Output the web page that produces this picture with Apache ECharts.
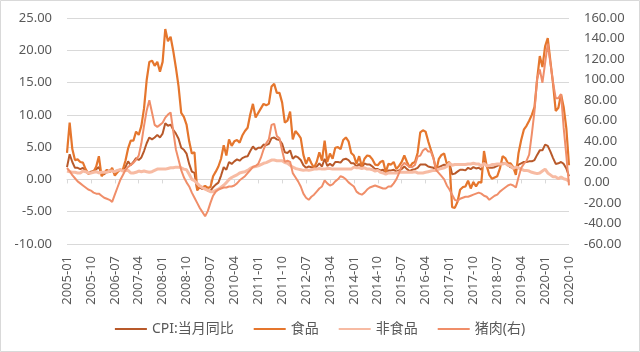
<!DOCTYPE html>
<html>
<head>
<meta charset="utf-8">
<script src="https://cdn.jsdelivr.net/npm/echarts@6/dist/echarts.min.js"></script>
<style>
html, body { margin: 0; padding: 0; background: #fff; }
#chart { width: 640px; height: 352px; }
</style>
</head>
<body>
<div id="chart"></div>
<script>
// 月份 2005-01 ~ 2020-10
const months = []
for (let y = 2005; y <= 2020; y++) {
  for (let m = 1; m <= 12; m++) {
    if (y === 2020 && m > 10) break
    months.push(y + '-' + (m < 10 ? '0' + m : m))
  }
}

// CPI:当月同比 (%)
const cpi = [
  1.9, 3.9, 2.7, 1.8, 1.8, 1.6, 1.8, 1.3, 0.9, 1.2, 1.3, 1.6,
  1.9, 0.9, 0.8, 1.2, 1.4, 1.5, 1.0, 1.3, 1.5, 1.4, 1.9, 2.8,
  2.2, 2.7, 3.3, 3.0, 3.4, 4.4, 5.6, 6.5, 6.2, 6.5, 6.9, 6.5,
  7.1, 8.7, 8.3, 8.5, 7.7, 7.1, 6.3, 4.9, 4.6, 4.0, 2.4, 1.2,
  1.0, -1.6, -1.2, -1.5, -1.4, -1.7, -1.8, -1.2, -0.8, -0.5, 0.6, 1.9,
  1.5, 2.7, 2.4, 2.8, 3.1, 2.9, 3.3, 3.5, 3.6, 4.4, 5.1, 4.6,
  4.9, 4.9, 5.4, 5.3, 5.5, 6.4, 6.5, 6.2, 6.1, 5.5, 4.2, 4.1,
  4.5, 3.2, 3.6, 3.4, 3.0, 2.2, 1.8, 2.0, 1.9, 1.7, 2.0, 2.5,
  2.0, 3.2, 2.1, 2.4, 2.1, 2.7, 2.7, 2.6, 3.1, 3.2, 3.0, 2.5,
  2.5, 2.0, 2.4, 1.8, 2.5, 2.3, 2.3, 2.0, 1.6, 1.6, 1.4, 1.5,
  0.8, 1.4, 1.4, 1.5, 1.2, 1.4, 1.6, 2.0, 1.6, 1.3, 1.5, 1.6,
  1.8, 2.3, 2.3, 2.3, 2.0, 1.9, 1.8, 1.3, 1.9, 2.1, 2.3, 2.1,
  2.5, 0.8, 0.9, 1.2, 1.5, 1.5, 1.4, 1.8, 1.6, 1.9, 1.7, 1.8,
  1.5, 2.9, 2.1, 1.8, 1.8, 1.9, 2.1, 2.3, 2.5, 2.5, 2.2, 1.9,
  1.7, 1.5, 2.3, 2.5, 2.7, 2.7, 2.8, 2.8, 3.0, 3.8, 4.5, 4.5,
  5.4, 5.2, 4.3, 3.3, 2.4, 2.5, 2.7, 2.4, 1.7, 0.5
]

// 食品 (%)
const food = [
  4.1, 8.8, 4.7, 3.0, 3.1, 2.7, 2.6, 1.6, 0.9, 1.0, 1.2, 2.0,
  3.6, 0.5, 1.0, 1.5, 1.1, 1.8, 0.6, 1.1, 1.5, 1.5, 2.9, 4.8,
  6.0, 6.0, 7.4, 6.9, 8.3, 11.0, 15.4, 18.2, 18.4, 17.6, 18.2, 16.7,
  18.2, 23.3, 21.4, 22.1, 19.9, 17.3, 14.4, 10.3, 9.7, 8.5, 5.9, 4.0,
  4.2, -1.7, -1.1, -1.2, -1.0, -1.3, -1.2, 0.5, 1.2, 2.0, 3.2, 5.3,
  3.7, 6.2, 5.2, 5.9, 6.1, 5.7, 6.8, 7.5, 8.0, 10.1, 11.7, 9.6,
  10.3, 11.0, 11.7, 11.5, 11.7, 14.4, 14.8, 13.4, 13.4, 11.9, 8.8, 9.1,
  10.5, 6.2, 7.5, 7.0, 6.4, 3.8, 2.4, 3.4, 2.5, 1.8, 2.7, 4.2,
  2.9, 6.0, 2.7, 4.0, 3.2, 4.9, 5.0, 4.7, 6.1, 6.5, 5.9, 4.1,
  3.7, 2.4, 3.6, 2.0, 3.2, 3.7, 3.6, 3.1, 2.3, 2.2, 2.7, 2.9,
  1.1, 2.4, 2.3, 2.7, 1.6, 2.1, 2.7, 3.7, 2.7, 1.9, 2.5, 2.7,
  4.1, 7.3, 7.6, 7.4, 5.9, 4.6, 3.3, 1.3, 3.2, 3.8, 4.0, 2.4,
  2.7, -4.3, -4.4, -3.5, -1.6, -1.2, -1.1, -0.2, -1.4, -0.4, -1.1, -0.4,
  -0.5, 4.4, 2.1, 0.7, 0.1, 0.3, 0.5, 1.7, 3.6, 3.3, 2.5, 2.5,
  1.9, 0.7, 4.1, 6.1, 7.7, 8.3, 9.1, 10.0, 11.2, 15.5, 19.1, 17.4,
  20.6, 21.9, 18.3, 14.8, 10.6, 11.1, 13.2, 11.2, 7.9, 2.2
]

// 非食品 (%)
const nonFood = [
  1.3, 1.2, 1.1, 1.1, 1.0, 1.0, 1.3, 1.2, 1.0, 1.0, 1.1, 1.2,
  1.0, 1.1, 1.1, 1.1, 1.3, 1.3, 1.2, 1.4, 1.5, 1.3, 1.4, 1.4,
  1.0, 1.0, 1.1, 1.3, 1.2, 1.3, 1.2, 1.1, 1.2, 1.4, 1.6, 1.6,
  1.6, 1.6, 1.7, 1.8, 1.8, 1.9, 1.9, 1.8, 1.6, 1.5, 0.8, 0.0,
  -0.2, -0.6, -1.0, -1.3, -1.5, -1.7, -1.9, -1.9, -1.7, -1.5, -1.2, -0.9,
  -0.5, 0.0, 0.3, 0.5, 0.7, 1.0, 1.1, 1.2, 1.4, 1.7, 1.9, 2.0,
  2.1, 2.3, 2.5, 2.6, 2.8, 3.0, 3.0, 2.9, 2.9, 2.9, 2.6, 2.5,
  2.2, 1.9, 1.7, 1.6, 1.5, 1.4, 1.5, 1.4, 1.5, 1.6, 1.6, 1.7,
  1.6, 1.6, 1.7, 1.7, 1.6, 1.6, 1.6, 1.6, 1.6, 1.6, 1.6, 1.6,
  1.9, 1.8, 1.8, 1.7, 1.8, 1.6, 1.6, 1.5, 1.3, 1.4, 1.1, 1.0,
  0.8, 1.0, 1.0, 1.0, 1.0, 1.1, 1.1, 1.1, 1.1, 1.1, 1.1, 1.2,
  1.0, 1.0, 1.0, 1.1, 1.2, 1.3, 1.4, 1.4, 1.6, 1.7, 1.8, 2.0,
  2.5, 2.2, 2.3, 2.3, 2.3, 2.3, 2.3, 2.4, 2.4, 2.5, 2.4, 2.4,
  2.0, 2.5, 2.1, 2.1, 2.3, 2.3, 2.4, 2.4, 2.4, 2.5, 2.2, 2.1,
  1.7, 1.9, 1.8, 1.6, 1.4, 1.4, 1.3, 1.1, 1.0, 0.9, 1.0, 1.3,
  1.6, 1.0, 0.7, 0.4, 0.4, 0.1, 0.4, 0.1, 0.0, -0.3
]

// 猪肉 (%, 右轴)
const pork = [
  14, 11, 7, 4, 1, -1, -3, -5, -7, -8, -10, -11,
  -11, -13, -15, -16, -17, -19, -12, -5, 2, 7, 12, 15,
  17, 19, 22, 26, 38, 55, 70, 80, 68, 56, 54, 56,
  58, 63, 66, 68, 50, 32, 22, 12, 5, 0, -4, -10,
  -15, -20, -25, -29, -33, -28, -20, -13, -9, -7, -6, -5,
  -5, -4, -4, -3, -1, 2, 4, 6, 9, 12, 15, 16,
  18, 24, 32, 38, 42, 56, 57, 45, 43, 31, 20, 21,
  20, 9, 5, 1, -4, -11, -15, -17, -14, -12, -9, -6,
  -4, 2, -1, -3, -2, 1, 3, 6, 5, 3, 0, -2,
  -4, -9, -11, -12, -10, -7, -5, -4, -3, -4, -5, -6,
  -6, -4, -4, -1, 3, 9, 16, 19, 17, 15, 15, 17,
  25, 26, 31, 33, 30, 30, 23, 12, 9, 6, 3, -3,
  -7, -12, -17, -18, -16, -15, -14, -14, -13, -12, -11, -10,
  -11, -13, -14, -17, -15, -13, -12, -9, -7, -5, -3, -2,
  -3, -5, 5, 14, 18, 21, 27, 47, 69, 101, 110, 97,
  116, 135, 116, 97, 82, 82, 86, 53, 26, -3
]

const FONT = "'Noto Sans', 'Noto Sans CJK SC', sans-serif"
const TEXT_COLOR = '#595959'
const GRID_COLOR = '#d9d9d9'

function lineSeries(name, data, color, width, yAxisIndex) {
  return {
    name: name,
    type: 'line',
    data: data,
    yAxisIndex: yAxisIndex,
    xAxisIndex: 0,
    symbol: 'none',
    showSymbol: false,
    animation: false,
    lineStyle: { color: color, width: width },
    itemStyle: { color: color }
  }
}

const chart = echarts.init(document.getElementById('chart'))

chart.setOption({
  animation: false,
  textStyle: { fontFamily: FONT },
  graphic: [
    {
      type: 'rect',
      silent: true,
      shape: { x: 0.5, y: 0.5, width: 639, height: 351 },
      style: { fill: 'none', stroke: GRID_COLOR, lineWidth: 1 }
    }
  ],
  grid: {
    left: 67,
    right: 71,
    top: 18,
    bottom: 108,
    containLabel: false,
    outerBoundsMode: 'none'
  },
  legend: {
    left: 'center',
    top: 317,
    icon: 'rect',
    itemWidth: 32,
    itemHeight: 2,
    itemGap: 20,
    textStyle: { fontSize: 14, color: TEXT_COLOR, fontFamily: FONT },
    data: ['CPI:当月同比', '食品', '非食品', '猪肉(右)']
  },
  xAxis: [
    {
      type: 'category',
      data: months,
      boundaryGap: false,
      position: 'bottom',
      axisLine: { show: false, onZero: false },
      axisTick: { show: false },
      splitLine: { show: false },
      axisLabel: {
        interval: 8,
        rotate: 90,
        margin: 12,
        fontSize: 13,
        color: TEXT_COLOR,
        fontFamily: FONT
      }
    },
    {
      type: 'category',
      data: months,
      boundaryGap: false,
      position: 'bottom',
      axisLine: { show: true, onZero: true, onZeroAxisIndex: 0, lineStyle: { color: GRID_COLOR, width: 1 } },
      axisTick: { show: true, interval: 8, length: 4, lineStyle: { color: GRID_COLOR } },
      axisLabel: { show: false },
      splitLine: { show: false }
    }
  ],
  yAxis: [
    {
      type: 'value',
      min: -10,
      max: 25,
      interval: 5,
      axisLine: { show: false },
      axisTick: { show: false },
      splitLine: { show: true, lineStyle: { color: GRID_COLOR, width: 1 } },
      axisLabel: {
        margin: 15,
        fontSize: 13,
        color: TEXT_COLOR,
        fontFamily: FONT,
        formatter: (v) => v.toFixed(2)
      }
    },
    {
      type: 'value',
      position: 'right',
      min: -60,
      max: 160,
      interval: 20,
      axisLine: { show: false },
      axisTick: { show: false },
      splitLine: { show: false },
      axisLabel: {
        margin: 15,
        fontSize: 13,
        color: TEXT_COLOR,
        fontFamily: FONT,
        formatter: (v) => v.toFixed(2)
      }
    }
  ],
  series: [
    lineSeries('CPI:当月同比', cpi, '#B8592A', 2, 0),
    lineSeries('食品', food, '#E5762D', 2.2, 0),
    lineSeries('非食品', nonFood, '#F7BBA3', 3, 0),
    lineSeries('猪肉(右)', pork, '#F08E69', 2, 1)
  ]
})
</script>
</body>
</html>
